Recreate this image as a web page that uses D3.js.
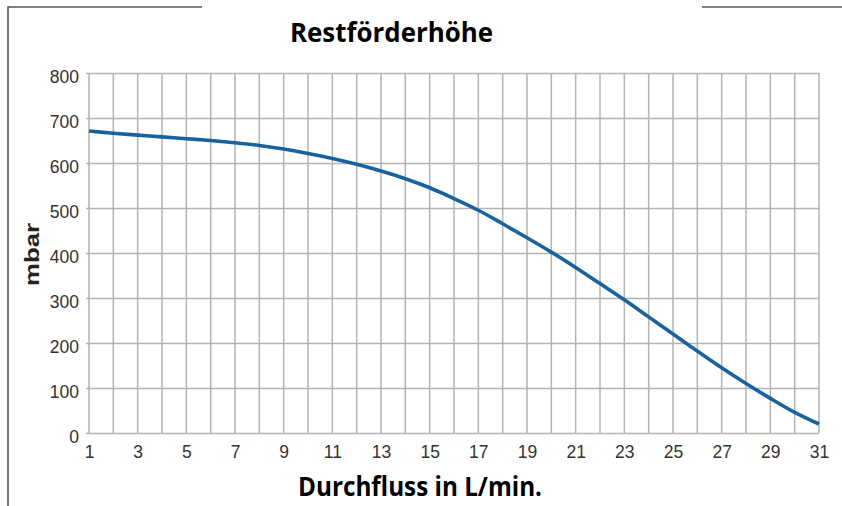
<!DOCTYPE html>
<html>
<head>
<meta charset="utf-8">
<script src="https://cdn.jsdelivr.net/npm/d3@7"></script>
<style>
  html, body { margin: 0; padding: 0; background: #fff; }
  svg { display: block; }
</style>
</head>
<body>
<svg id="chart" width="842" height="506"></svg>
<script>
// ---- data ----
const flow = [1,2,3,4,5,6,7,8,9,10,11,12,13,14,15,16,17,18,19,20,21,22,23,24,25,26,27,28,29,30,31];
const pressure = [671,666,662,658,654,650,645,639,631,621,610,597,582,565,545,521,495,465,434,402,368,332,296,258,220,182,145,110,77,46,20];
const xTicks = [1,3,5,7,9,11,13,15,17,19,21,23,25,27,29,31];
const yTicks = [0,100,200,300,400,500,600,700,800];
const titleText = "Restförderhöhe";
const xLabel = "Durchfluss in L/min.";
const yLabel = "mbar";

const svg = d3.select("#chart");
const pLeft = 89, pRight = 819, pTop = 73, pBottom = 433;

const x = d3.scaleLinear().domain([1, 31]).range([pLeft, pRight]);
const y = d3.scaleLinear().domain([0, 800]).range([pBottom, pTop]);

// frame
const frame = svg.append("g").attr("stroke", "#555").attr("stroke-width", 1.6).attr("fill", "none");
frame.append("path").attr("d", "M8,506 L8,7 L202,7");
frame.append("path").attr("d", "M702,7 L842,7");

// vertical grid (every 1 unit)
const gridColor = "#b3b3b3";
const vlines = d3.range(1, 32);
svg.append("g").selectAll("line").data(vlines).join("line")
  .attr("x1", d => x(d)).attr("x2", d => x(d))
  .attr("y1", y(800)).attr("y2", y(0))
  .attr("stroke", gridColor).attr("stroke-width", 1.5);

// horizontal grid via axis
const yAxis = d3.axisLeft(y).tickValues(yTicks).tickSize(-(pRight - pLeft)).tickPadding(8);
const gy = svg.append("g").attr("transform", `translate(${pLeft},0)`).call(yAxis);
gy.select(".domain").remove();
gy.selectAll(".tick line").attr("stroke", gridColor).attr("stroke-width", 1.5)
  .attr("x1", -3);
gy.selectAll(".tick text")
  .attr("font-family", "Liberation Sans, Arial, sans-serif")
  .attr("font-size", 17.5).attr("fill", "#333").attr("dy", "0.55em").attr("x", -10);

// x axis labels
const xAxis = d3.axisBottom(x).tickValues(xTicks).tickSize(0).tickPadding(13);
const gx = svg.append("g").attr("transform", `translate(0,${pBottom})`).call(xAxis);
gx.select(".domain").remove();
gx.selectAll(".tick text")
  .attr("font-family", "Liberation Sans, Arial, sans-serif")
  .attr("font-size", 17.5).attr("fill", "#333");

// curve
const line = d3.line().x((d, i) => x(flow[i])).y(d => y(d)).curve(d3.curveCatmullRom.alpha(0.5));
svg.append("path").datum(pressure)
  .attr("d", line).attr("fill", "none")
  .attr("stroke", "#1962a0").attr("stroke-width", 3.6).attr("stroke-linecap", "butt");

// title
svg.append("text").text(titleText)
  .attr("x", 391.5).attr("y", 42.3).attr("text-anchor", "middle")
  .attr("font-family", "Open Sans, sans-serif").attr("font-weight", "bold")
  .attr("font-size", 26).attr("fill", "#000")
  .attr("textLength", 203).attr("lengthAdjust", "spacingAndGlyphs");

// x label
svg.append("text").text(xLabel)
  .attr("x", 420).attr("y", 496).attr("text-anchor", "middle")
  .attr("font-family", "Open Sans, sans-serif").attr("font-weight", "bold")
  .attr("font-size", 26).attr("fill", "#000")
  .attr("textLength", 244).attr("lengthAdjust", "spacingAndGlyphs");

// y label
svg.append("text").text(yLabel)
  .attr("transform", "translate(38.5,254.5) rotate(-90)")
  .attr("text-anchor", "middle")
  .attr("font-family", "Liberation Sans, Arial, sans-serif").attr("font-weight", "bold")
  .attr("font-size", 20).attr("fill", "#222")
  .attr("textLength", 63).attr("lengthAdjust", "spacingAndGlyphs");
</script>
</body>
</html>
